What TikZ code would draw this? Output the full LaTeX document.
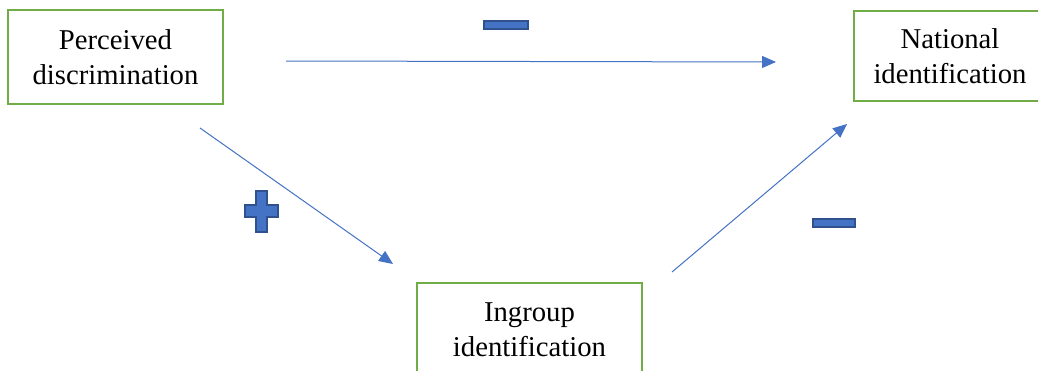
\documentclass[tikz,border=0pt]{standalone}
\usepackage{fontspec}
\setmainfont{Liberation Serif}
\usetikzlibrary{arrows.meta,calc}
\definecolor{boxgreen}{HTML}{70AD47}
\definecolor{linkblue}{HTML}{4472C4}
\definecolor{signedge}{HTML}{2F528F}
\tikzset{
  concept/.style={draw=boxgreen, line width=2pt, fill=white, inner sep=0pt,
    align=center, font=\fontsize{28.7}{35.5}\selectfont},
  link/.style={draw=linkblue, line width=1pt,
    -{Triangle[length=14pt,width=12pt]}},
  sign/.style={fill=linkblue, draw=signedge, line width=1.2pt}
}
\begin{document}
\begin{tikzpicture}[x=1pt,y=-1pt]
  \clip (0,0) rectangle (1038,370);
  \fill[white] (0,0) rectangle (1038,370);

  % variables
  \node[concept, minimum width=215pt, minimum height=94pt] (pd) at (115.5,57)
    {Perceived\\discrimination};
  \node[concept, minimum width=192pt, minimum height=90pt] (ni) at (950,56)
    {National\\identification};
  \node[concept, minimum width=225pt, minimum height=93pt] (ig) at (529.5,329.5)
    {Ingroup\\identification};

  % paths
  \draw[link] ($(pd.east)+(62,4)$) -- ($(ni.west)+(-77,6)$);
  \draw[link] ($(pd.south)+(84.5,23)$) -- ($(ig.north)+(-136.5,-18)$);
  \draw[link] ($(ig.north)+(142.5,-10)$) -- ($(ni.south)+(-103,22)$);

  % effect signs
  \draw[sign] (484,21) rectangle (528,29);
  \draw[sign] (813,219) rectangle (855,227);
  \draw[sign] (256,191) -- (267,191) -- (267,205) -- (278,205) -- (278,217)
    -- (267,217) -- (267,232) -- (256,232) -- (256,217) -- (245,217)
    -- (245,205) -- (256,205) -- cycle;
\end{tikzpicture}
\end{document}
